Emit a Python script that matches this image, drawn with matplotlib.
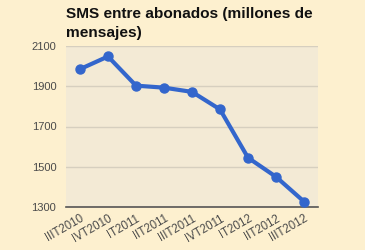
import matplotlib
matplotlib.use('agg')
import matplotlib.pyplot as plt

quarters = ['IIIT2010', 'IVT2010', 'IT2011', 'IIT2011', 'IIIT2011',
            'IVT2011', 'IT2012', 'IIT2012', 'IIIT2012']
sms = [1985, 2048, 1903, 1893, 1872, 1785, 1545, 1450, 1327]
yticks = [1300, 1500, 1700, 1900, 2100]

fig = plt.figure(figsize=(3.65, 2.5), dpi=100, facecolor='#fdf0cf')
ax = fig.add_axes([66 / 365, 1 - 207 / 250, 252 / 365, 161 / 250])
ax.set_facecolor('#f3ead5')

x = range(len(quarters))
ax.plot(x, sms, color='#3366cc', lw=3, marker='o', ms=6.5, zorder=3)

ax.set_xlim(-0.5, len(quarters) - 0.5)
ax.set_ylim(1300, 2100)
ax.set_yticks(yticks)
ax.set_yticklabels([str(v) for v in yticks], fontsize=8, color='#4a4a4a',
                   family='Liberation Sans')
ax.set_xticks(list(x))
ax.set_xticklabels(quarters, rotation=30, ha='right', rotation_mode='anchor',
                   fontsize=8.3, color='#4a4a4a', family='Liberation Sans')
ax.tick_params(axis='y', length=0, pad=7)
ax.tick_params(axis='x', length=0, pad=4)

ax.grid(axis='y', color='#d6cfbf', lw=1)
for s in ['top', 'left', 'right']:
    ax.spines[s].set_visible(False)
ax.spines['bottom'].set_color('#555555')
ax.spines['bottom'].set_linewidth(1.2)
ax.set_axisbelow(True)

fig.text(66 / 365, 1 - 7 / 250, 'SMS entre abonados (millones de\nmensajes)',
         fontsize=11.1, fontweight='bold', family='Liberation Sans',
         color='#111111', va='top', ha='left', linespacing=1.5)

plt.savefig('out.png', dpi=100, facecolor=fig.get_facecolor())
